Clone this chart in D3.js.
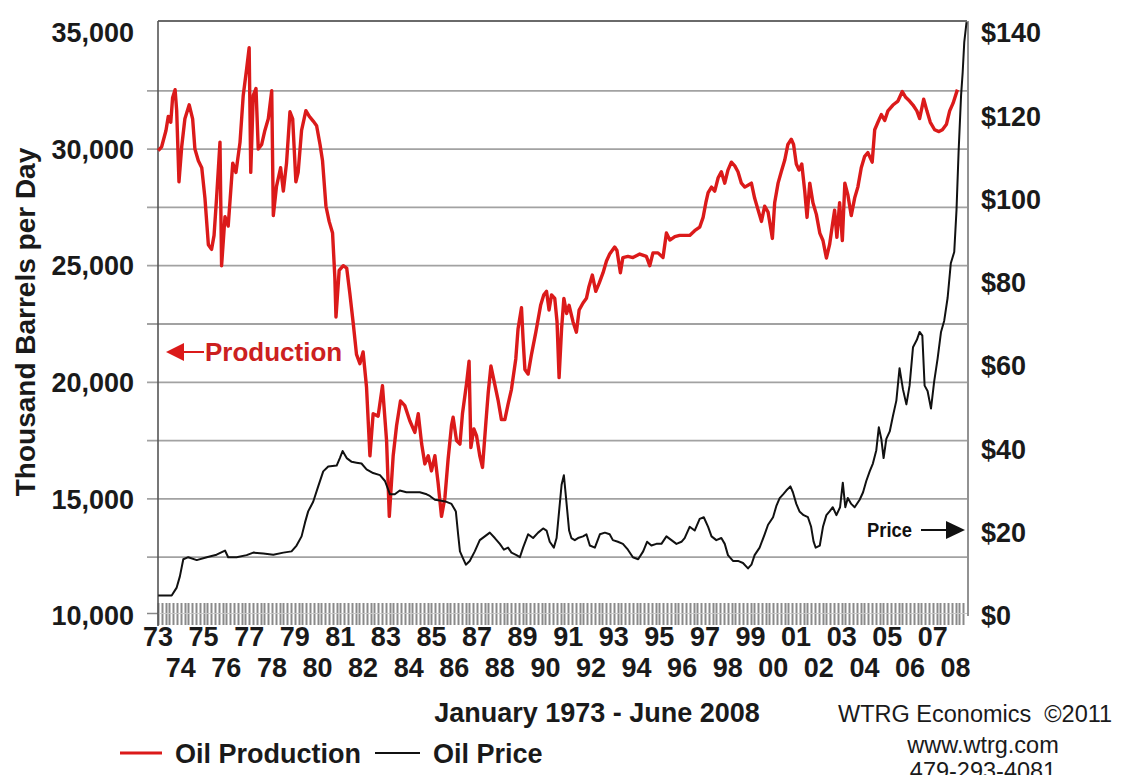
<!DOCTYPE html>
<html><head><meta charset="utf-8">
<script src="https://cdn.jsdelivr.net/npm/d3@7"></script>
<style>
html,body{margin:0;padding:0;background:#fff;}
svg{display:block;font-family:"Liberation Sans",Arial,sans-serif;}
</style></head>
<body><svg id="c" width="1127" height="775"></svg>
<script>
// ---- data ----
const prodYears = [1973.01,1973.16,1973.35,1973.45,1973.56,1973.64,1973.75,1973.82,1973.92,1974.04,1974.18,1974.37,1974.52,1974.62,1974.77,1974.92,1975.06,1975.21,1975.35,1975.46,1975.57,1975.72,1975.79,1975.94,1976.08,1976.28,1976.42,1976.6,1976.74,1976.89,1977.0,1977.07,1977.18,1977.3,1977.4,1977.55,1977.69,1977.84,1977.99,1978.06,1978.2,1978.38,1978.5,1978.64,1978.79,1978.91,1979.05,1979.15,1979.3,1979.49,1979.64,1979.81,1979.96,1980.11,1980.22,1980.37,1980.51,1980.66,1980.76,1980.81,1980.95,1981.13,1981.28,1981.42,1981.57,1981.71,1981.86,1982.0,1982.15,1982.3,1982.44,1982.66,1982.85,1983.03,1983.15,1983.32,1983.47,1983.64,1983.83,1984.05,1984.27,1984.42,1984.57,1984.71,1984.86,1985.0,1985.15,1985.29,1985.44,1985.59,1985.73,1985.88,1985.95,1986.1,1986.25,1986.36,1986.54,1986.65,1986.73,1986.86,1986.98,1987.12,1987.24,1987.39,1987.49,1987.61,1987.78,1987.93,1988.07,1988.22,1988.36,1988.51,1988.7,1988.8,1988.95,1989.02,1989.1,1989.24,1989.39,1989.58,1989.79,1989.93,1990.05,1990.16,1990.27,1990.41,1990.51,1990.6,1990.71,1990.81,1990.93,1991.04,1991.21,1991.36,1991.48,1991.65,1991.8,1991.91,1992.06,1992.21,1992.36,1992.53,1992.68,1992.82,1993.04,1993.14,1993.29,1993.4,1993.62,1993.84,1994.14,1994.43,1994.58,1994.72,1994.94,1995.16,1995.31,1995.46,1995.68,1995.89,1996.11,1996.33,1996.55,1996.77,1996.92,1997.04,1997.14,1997.29,1997.43,1997.58,1997.72,1997.87,1998.01,1998.16,1998.31,1998.45,1998.6,1998.75,1998.89,1999.04,1999.18,1999.33,1999.48,1999.62,1999.77,1999.96,2000.06,2000.21,2000.35,2000.5,2000.64,2000.79,2000.89,2001.01,2001.13,2001.25,2001.38,2001.48,2001.6,2001.74,2001.89,2002.04,2002.18,2002.33,2002.47,2002.59,2002.69,2002.79,2002.91,2003.03,2003.14,2003.27,2003.42,2003.57,2003.71,2003.86,2004.01,2004.15,2004.34,2004.45,2004.59,2004.74,2004.89,2005.03,2005.25,2005.47,2005.66,2005.81,2005.98,2006.13,2006.3,2006.42,2006.6,2006.74,2006.89,2007.08,2007.27,2007.42,2007.6,2007.74,2007.89,2008.08];
const prodValues = [29930,30100,30800,31400,31150,32200,32550,31650,28600,30100,31300,31900,31300,30000,29500,29200,27900,25900,25700,26300,27900,30300,25000,27100,26700,29400,29000,30300,32300,33450,34350,29000,32300,32600,30000,30200,30800,31300,32500,27150,28400,29200,28200,29400,31600,31300,28600,29000,30800,31650,31400,31200,31000,30200,29500,27550,26900,26400,24500,22800,24800,25000,24900,23800,22500,21200,20800,21300,19800,16850,18650,18550,19850,17500,14250,16850,18150,19200,19000,18350,17850,18650,17350,16500,16850,16200,16850,15700,14250,15050,16700,18150,18500,17500,17350,18650,19950,20900,17200,18000,17700,16850,16350,18300,19550,20700,19900,19200,18400,18400,19050,19700,21000,22300,23200,21850,20550,20350,21200,22150,23300,23750,23900,23100,23750,23600,22600,20200,22300,23600,22950,23300,22600,22150,23100,23400,23600,24100,24600,23900,24250,24700,25200,25500,25800,25650,24700,25350,25400,25350,25500,25400,25000,25550,25550,25350,26400,26100,26250,26300,26300,26300,26500,26650,27070,27700,28130,28370,28200,28770,29030,28540,29100,29440,29280,29030,28540,28370,28450,28540,27900,27400,26900,27550,27300,26170,27700,28540,29030,29520,30200,30420,30200,29360,29100,29360,28200,27070,28540,27700,27200,26400,26080,25330,25900,26720,27380,26220,27700,26080,28540,28050,27150,27900,28370,29200,29690,29850,29440,30830,31150,31480,31230,31640,31890,32060,32470,32220,32060,31890,31640,31310,32140,31640,31150,30830,30750,30830,31070,31640,31970,32550];

const priceYears = [1973.01,1973.6,1973.82,1973.96,1974.11,1974.33,1974.7,1975.14,1975.57,1975.94,1976.08,1976.45,1976.89,1977.18,1977.62,1978.06,1978.5,1978.86,1979.08,1979.3,1979.45,1979.59,1979.81,1980.03,1980.25,1980.47,1980.84,1980.98,1981.1,1981.28,1981.5,1981.71,1981.93,1982.15,1982.44,1982.74,1982.96,1983.18,1983.39,1983.61,1983.9,1984.2,1984.49,1984.79,1984.93,1985.15,1985.37,1985.66,1985.88,1986.07,1986.17,1986.25,1986.36,1986.51,1986.68,1986.9,1987.12,1987.34,1987.56,1987.78,1988.0,1988.18,1988.36,1988.51,1988.73,1988.88,1989.02,1989.24,1989.46,1989.68,1989.9,1990.05,1990.19,1990.37,1990.49,1990.6,1990.71,1990.81,1990.93,1991.04,1991.14,1991.29,1991.43,1991.65,1991.8,1991.95,1992.17,1992.39,1992.61,1992.82,1992.96,1993.18,1993.4,1993.62,1993.84,1994.07,1994.29,1994.46,1994.65,1994.87,1995.09,1995.31,1995.53,1995.75,1995.97,1996.11,1996.33,1996.55,1996.77,1996.95,1997.14,1997.29,1997.5,1997.72,1997.87,1998.01,1998.23,1998.45,1998.67,1998.89,1999.04,1999.18,1999.4,1999.62,1999.77,1999.99,2000.14,2000.28,2000.43,2000.57,2000.75,2000.86,2001.01,2001.15,2001.33,2001.52,2001.66,2001.77,2001.86,2002.04,2002.18,2002.33,2002.47,2002.61,2002.77,2002.93,2003.05,2003.16,2003.27,2003.42,2003.57,2003.79,2003.94,2004.08,2004.23,2004.37,2004.52,2004.63,2004.74,2004.84,2004.96,2005.11,2005.25,2005.4,2005.54,2005.69,2005.84,2005.98,2006.13,2006.3,2006.42,2006.54,2006.64,2006.77,2006.92,2007.06,2007.21,2007.36,2007.5,2007.65,2007.79,2007.94,2008.04,2008.13,2008.24,2008.31,2008.38,2008.48];
const priceValues = [4.8,4.8,6.7,9.4,13.5,14.0,13.3,14.0,14.6,15.6,14.0,14.0,14.5,15.1,14.9,14.6,15.1,15.4,16.8,19.0,22.3,25.0,27.3,31.0,34.6,35.8,36.0,37.8,39.5,37.8,36.9,36.7,36.5,35.1,34.2,33.7,32.3,29.1,29.1,30.0,29.6,29.6,29.6,29.1,28.7,27.8,27.6,27.3,26.8,25.0,19.5,15.4,14.0,12.2,13.1,15.4,18.1,19.0,19.9,18.6,17.2,15.8,16.3,15.1,14.5,14.0,16.3,19.5,18.6,19.9,20.9,20.4,17.7,16.3,18.6,25.0,31.4,33.7,26.8,20.4,18.6,18.1,18.6,19.0,19.5,16.8,16.3,19.5,19.9,19.5,18.1,17.7,17.2,15.8,14.0,13.5,15.4,17.7,16.8,17.2,17.2,19.0,18.1,17.2,17.7,18.6,21.3,20.4,23.2,23.6,21.3,19.0,18.1,18.6,17.2,14.5,13.1,13.1,12.6,11.3,12.2,14.5,16.3,19.5,21.8,23.6,26.4,28.2,29.1,30.0,31.0,29.6,26.8,25.0,24.1,23.6,21.3,17.7,16.3,16.8,21.3,24.1,25.0,26.0,24.1,26.0,31.9,26.0,28.2,26.8,26.0,27.8,29.6,32.3,34.6,36.5,39.7,45.2,42.4,37.8,42.4,44.2,47.9,51.6,59.4,54.3,50.7,55.2,64.4,66.2,68.1,67.2,55.2,53.9,49.7,56.2,61.7,68.1,70.8,76.3,84.6,87.3,97.4,111.2,124.9,130.4,137.7,142.5];

const leftTicks = [10000,15000,20000,25000,30000,35000];
const gridValues = [12500,15000,17500,20000,22500,25000,27500,30000,32500];
const rightTicks = [0,20,40,60,80,100,120,140];
const yearLabels = ["73","74","75","76","77","78","79","80","81","82","83","84","85","86","87","88","89","90","91","92","93","94","95","96","97","98","99","00","01","02","03","04","05","06","07","08"];

// ---- scales ----
const x = d3.scaleLinear().domain([1973, 2008.5]).range([158, 967]);
const yL = d3.scaleLinear().domain([10000, 35000]).range([615.5, 32.5]);
const yR = d3.scaleLinear().domain([0, 140]).range([615.5, 32.5]);
const plotTop = 21, plotLeft = 158, plotRight = 967;

const svg = d3.select("#c");
const RED = "#db1a1a";

// gridlines (from left scale)
svg.append("g").selectAll("line").data(gridValues).join("line")
  .attr("x1", plotLeft - 11).attr("x2", plotRight)
  .attr("y1", d => yL(d)).attr("y2", d => yL(d))
  .attr("stroke", "#a2a2a2").attr("stroke-width", 1.8);

// left tick at 10000
svg.append("line").attr("x1", plotLeft - 11).attr("x2", plotLeft)
  .attr("y1", yL(10000) - 2).attr("y2", yL(10000) - 2).attr("stroke", "#888").attr("stroke-width", 1.5);

// tick strip along the bottom
const ticks = d3.range(0, 426, 2);
svg.append("g").selectAll("line").data(ticks).join("line")
  .attr("x1", m => Math.round(x(1973 + m / 12)) + 0.5).attr("x2", m => Math.round(x(1973 + m / 12)) + 0.5)
  .attr("y1", 603).attr("y2", 625)
  .attr("stroke", "#8a8a8a").attr("stroke-width", 2);
svg.append("line").attr("x1", plotLeft).attr("x2", plotRight).attr("y1", 613.5).attr("y2", 613.5)
  .attr("stroke", "#c8c8c8").attr("stroke-width", 1);

// frame
svg.append("line").attr("x1", plotLeft).attr("x2", plotRight).attr("y1", plotTop).attr("y2", plotTop)
  .attr("stroke", "#6a6a6a").attr("stroke-width", 2);
svg.append("line").attr("x1", plotLeft).attr("x2", plotLeft).attr("y1", plotTop).attr("y2", 626)
  .attr("stroke", "#555").attr("stroke-width", 1.6);
svg.append("line").attr("x1", plotRight + 1).attr("x2", plotRight + 1).attr("y1", plotTop).attr("y2", 616)
  .attr("stroke", "#777").attr("stroke-width", 1.6);

// left axis labels
svg.append("g").selectAll("text").data(leftTicks).join("text")
  .attr("x", 134).attr("y", d => yL(d)).attr("dy", "0.36em")
  .attr("text-anchor", "end").attr("font-size", 27).attr("font-weight", "bold").attr("fill", "#1a1a1a")
  .text(d => d3.format(",")(d));

// right axis labels
svg.append("g").selectAll("text").data(rightTicks).join("text")
  .attr("x", 981).attr("y", d => yR(d)).attr("dy", "0.36em")
  .attr("text-anchor", "start").attr("font-size", 27).attr("font-weight", "bold").attr("fill", "#1a1a1a")
  .text(d => "$" + d);

// year labels: two staggered rows
svg.append("g").selectAll("text").data(yearLabels).join("text")
  .attr("x", (d, i) => x(1973 + i))
  .attr("y", (d, i) => i % 2 === 0 ? 646 : 677)
  .attr("text-anchor", "middle").attr("font-size", 27).attr("font-weight", "bold").attr("fill", "#1a1a1a")
  .text(d => d);

// axis titles
svg.append("text").attr("x", 597).attr("y", 722).attr("text-anchor", "middle")
  .attr("font-size", 27).attr("font-weight", "bold").attr("fill", "#1a1a1a")
  .text("January 1973 - June 2008");
svg.append("text").attr("transform", "translate(35,322) rotate(-90)").attr("text-anchor", "middle")
  .attr("font-size", 28).attr("font-weight", "bold").attr("fill", "#1a1a1a")
  .text("Thousand Barrels per Day");

// credits
svg.append("text").attr("x", 838).attr("y", 722).attr("font-size", 23.5).attr("fill", "#1a1a1a")
  .attr("xml:space", "preserve").text("WTRG Economics  \u00A92011");
svg.append("text").attr("x", 983).attr("y", 753).attr("text-anchor", "middle").attr("font-size", 23.5).attr("fill", "#1a1a1a")
  .text("www.wtrg.com");
svg.append("text").attr("x", 983).attr("y", 779).attr("text-anchor", "middle").attr("font-size", 23.5).attr("fill", "#1a1a1a")
  .text("479-293-4081");

// series lines
const prodData = prodYears.map((t, i) => [t, prodValues[i]]);
const priceData = priceYears.map((t, i) => [t, priceValues[i]]);
svg.append("path").datum(prodData)
  .attr("d", d3.line().x(d => x(d[0])).y(d => yL(d[1])))
  .attr("fill", "none").attr("stroke", RED).attr("stroke-width", 3.4).attr("stroke-linejoin", "round");
svg.append("path").datum(priceData)
  .attr("d", d3.line().x(d => x(d[0])).y(d => yR(d[1])))
  .attr("fill", "none").attr("stroke", "#111").attr("stroke-width", 2).attr("stroke-linejoin", "round");

// annotations
const pa = svg.append("g");
pa.append("path").attr("d", "M166,352 L184,343 L184,361 Z").attr("fill", RED);
pa.append("line").attr("x1", 183).attr("x2", 204).attr("y1", 352).attr("y2", 352).attr("stroke", RED).attr("stroke-width", 2);
pa.append("text").attr("x", 205).attr("y", 361).attr("font-size", 26).attr("font-weight", "bold").attr("fill", "#cc2020")
  .text("Production");

const pr = svg.append("g");
pr.append("text").attr("x", 867).attr("y", 537).attr("font-size", 20).attr("font-weight", "bold").attr("fill", "#111")
  .attr("transform", "translate(867,537) scale(0.92,1) translate(-867,-537)")
  .text("Price");
pr.append("line").attr("x1", 921).attr("x2", 948).attr("y1", 530).attr("y2", 530).attr("stroke", "#111").attr("stroke-width", 2);
pr.append("path").attr("d", "M946,521 L965,530 L946,539 Z").attr("fill", "#111");

// legend
const lg = svg.append("g");
lg.append("line").attr("x1", 120).attr("x2", 162).attr("y1", 753).attr("y2", 753).attr("stroke", RED).attr("stroke-width", 3);
lg.append("text").attr("x", 175).attr("y", 763).attr("font-size", 27).attr("font-weight", "bold").attr("fill", "#1a1a1a").text("Oil Production");
lg.append("line").attr("x1", 375).attr("x2", 420).attr("y1", 753).attr("y2", 753).attr("stroke", "#111").attr("stroke-width", 2);
lg.append("text").attr("x", 433).attr("y", 763).attr("font-size", 27).attr("font-weight", "bold").attr("fill", "#1a1a1a").text("Oil Price");
</script></body></html>
